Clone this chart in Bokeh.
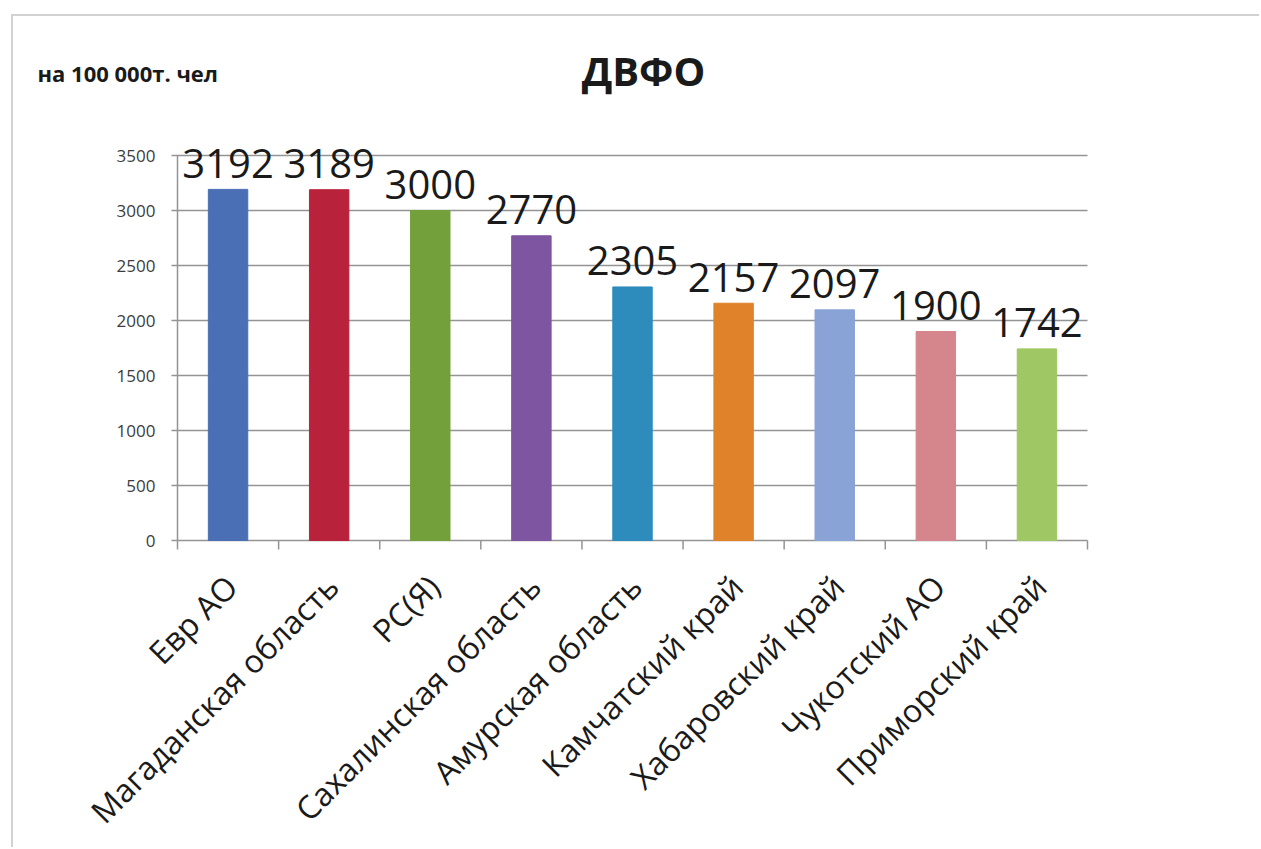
import math

from bokeh.core.properties import value
from bokeh.embed import file_html
from bokeh.models import ColumnDataSource, Range1d
from bokeh.plotting import figure
from bokeh.resources import INLINE

# Far Eastern Federal District, rate per 100 000 population
regions = ["Евр АО", "Магаданская область", "РС(Я)", "Сахалинская область",
           "Амурская область", "Камчатский край", "Хабаровский край",
           "Чукотский АО", "Приморский край"]
rates = [3192, 3189, 3000, 2770, 2305, 2157, 2097, 1900, 1742]
bar_colors = ["#4a6fb5", "#b8223a", "#73a03a", "#7d55a0", "#2e8cbc",
              "#e0822a", "#8aa3d6", "#d4868c", "#9fc763"]
y_ticks = [0, 500, 1000, 1500, 2000, 2500, 3000, 3500]

title_text = "ДВФО"
units_text = "на 100 000т. чел"

FONT = "Open Sans"
AXIS_GRAY = "#949494"
INK = "#1a1a1a"

# canvas geometry (pixels)
W, H = 1248, 833
PLOT_LEFT, PLOT_RIGHT = 164, 1074      # value axis .. last slot edge
PLOT_TOP, PLOT_BOTTOM = 139, 524       # y = y_max .. y = 0
n = len(regions)
y_max = y_ticks[-1]

px_per_slot = (PLOT_RIGHT - PLOT_LEFT) / n
px_per_unit = (PLOT_BOTTOM - PLOT_TOP) / y_max

x_range = Range1d(-PLOT_LEFT / px_per_slot, (W - PLOT_LEFT) / px_per_slot)
y_range = Range1d(-(H - PLOT_BOTTOM) / px_per_unit, PLOT_BOTTOM / px_per_unit)

# each region occupies one unit slot; bars sit in the middle of their slot
slot_centers = [i + 0.5 for i in range(n)]
slot_edges = list(range(n + 1))

bars = ColumnDataSource(dict(
    x=slot_centers,
    rate=rates,
    color=bar_colors,
    label=[str(v) for v in rates],
    region=regions,
))

p = figure(
    x_range=x_range, y_range=y_range,
    width=W, height=H,
    min_border=0, min_border_left=0, min_border_right=0,
    min_border_top=0, min_border_bottom=0,
    x_axis_location=None, y_axis_location=None,
    toolbar_location=None, output_backend="svg",
)
p.margin = (14, 0, 0, 11)
p.styles = {"border-top": "2px solid #d2d2d2", "border-left": "2px solid #d2d2d2"}
p.grid.visible = False
p.outline_line_color = None
p.background_fill_color = "white"
p.border_fill_color = "white"

tick_out_y = 6 / px_per_slot      # value-axis tick length, in slots
tick_out_x = 9 / px_per_unit      # category separator length, in value units

# horizontal gridlines (with their outward ticks) and the category axis line
p.segment(x0=[-tick_out_y] * len(y_ticks), y0=y_ticks,
          x1=[n] * len(y_ticks), y1=y_ticks,
          line_color=AXIS_GRAY, line_width=1.5)
# value axis line
p.segment(x0=[0], y0=[0], x1=[0], y1=[y_max], line_color=AXIS_GRAY, line_width=1.5)
# category separators
p.segment(x0=slot_edges, y0=[0] * len(slot_edges),
          x1=slot_edges, y1=[-tick_out_x] * len(slot_edges),
          line_color=AXIS_GRAY, line_width=1.5)

# value axis labels
p.text(x=[0] * len(y_ticks), y=y_ticks, text=[str(t) for t in y_ticks],
       x_offset=-22, text_align="right", text_baseline="middle",
       text_font=value(FONT), text_font_size="17px", text_color="#3c3c3c")

# bars
p.vbar(x="x", top="rate", width=0.39, color="color", source=bars)

# value labels
p.text(x="x", y="rate", text="label", source=bars,
       text_align="center", text_baseline="alphabetic", y_offset=-26,
       text_font=value(FONT), text_font_size="40px", text_color=INK)

# region names, rotated under their bars
p.text(x="x", y=0, text="region", source=bars, angle=math.pi / 4,
       text_align="right", text_baseline="middle", x_offset=3, y_offset=40,
       text_font=value(FONT), text_font_size="32px", text_color=INK)

# chart title and units note
p.text(x=[(643 - 13 - PLOT_LEFT) / px_per_slot], y=[(PLOT_BOTTOM - (70 - 16)) / px_per_unit],
       text=[title_text], text_align="center", text_baseline="middle",
       text_font=value(FONT), text_font_size="40px", text_font_style="bold",
       text_color=INK)
p.text(x=[(37 - 13 - PLOT_LEFT) / px_per_slot], y=[(PLOT_BOTTOM - (72 - 16)) / px_per_unit],
       text=[units_text], text_align="left", text_baseline="middle",
       text_font=value(FONT), text_font_size="22px", text_font_style="bold",
       text_color=INK)

open("out.html", "w").write(file_html(p, INLINE))
